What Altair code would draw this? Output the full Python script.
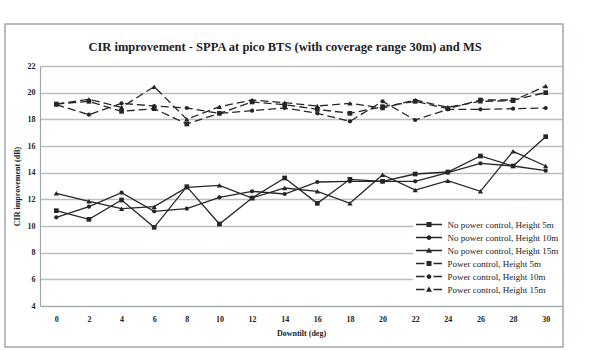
import altair as alt
import pandas as pd

# Downtilt angles (deg) on the x axis
downtilt = [0, 2, 4, 6, 8, 10, 12, 14, 16, 18, 20, 22, 24, 26, 28, 30]

# CIR improvement (dB) per configuration
no_pc_5m = [11.15, 10.5, 11.95, 9.9, 12.95, 10.15, 12.1, 13.6, 11.7, 13.5, 13.35, 13.9, 14.05, 15.25, 14.5, 16.7]
no_pc_10m = [10.65, 11.45, 12.5, 11.1, 11.3, 12.15, 12.6, 12.4, 13.3, 13.35, 13.35, 13.35, 14.0, 14.7, 14.5, 14.15]
no_pc_15m = [12.45, 11.85, 11.3, 11.45, 12.9, 13.05, 12.1, 12.85, 12.6, 11.7, 13.85, 12.7, 13.4, 12.6, 15.6, 14.5]
pc_5m = [19.15, 19.35, 18.6, 18.8, 17.65, 18.45, 19.3, 19.1, 18.75, 18.45, 18.95, 19.35, 18.8, 19.45, 19.45, 20.0]
pc_10m = [19.1, 18.35, 19.2, 19.0, 18.85, 18.45, 18.65, 18.85, 18.45, 17.85, 19.35, 17.95, 18.75, 18.75, 18.8, 18.85]
pc_15m = [19.15, 19.5, 18.9, 20.45, 18.0, 18.95, 19.45, 19.25, 19.0, 19.2, 18.85, 19.45, 18.9, 19.35, 19.4, 20.5]

series_names = [
    "No power control, Height 5m",
    "No power control, Height 10m",
    "No power control, Height 15m",
    "Power control, Height 5m",
    "Power control, Height 10m",
    "Power control, Height 15m",
]
series_values = [no_pc_5m, no_pc_10m, no_pc_15m, pc_5m, pc_10m, pc_15m]
controls = ["none", "none", "none", "pc", "pc", "pc"]
heights = [5, 10, 15, 5, 10, 15]

y_ticks = [4, 6, 8, 10, 12, 14, 16, 18, 20, 22]

rows = []
for name, vals, ctrl, h in zip(series_names, series_values, controls, heights):
    for d, v in zip(downtilt, vals):
        rows.append({"downtilt": d, "cir": v, "series": name, "control": ctrl, "height": h})
df = pd.DataFrame(rows)

INK = "#262626"
GRID = "#b9c0c0"
FRAME = "#9ea8a8"
SERIF = "Liberation Serif"

# Legend symbols (filled paths, 1 unit = 2.5 px): a short line with the
# series marker in the middle; dashed for the power-control series
SOLID = "M-5.2,-0.26H5.2V0.26H-5.2Z"
DASHED = "M-5.2,-0.26H-1.8V0.26H-5.2ZM1.8,-0.26H5.2V0.26H1.8Z"
SQUARE = "M-1,-1H1V1H-1Z"
CIRCLE = "M-0.95,0A0.95,0.95 0 1,1 0.95,0A0.95,0.95 0 1,1 -0.95,0Z"
TRIANGLE = "M0,-1.2L1.2,0.85H-1.2Z"
legend_paths = [
    SOLID + SQUARE, SOLID + CIRCLE, SOLID + TRIANGLE,
    DASHED + SQUARE, DASHED + CIRCLE, DASHED + TRIANGLE,
]

x_enc = alt.X(
    "downtilt:Q",
    scale=alt.Scale(domain=[-1, 31], nice=False, zero=False),
    axis=alt.Axis(
        values=downtilt, title="Downtilt (deg)", grid=False, ticks=False,
        labelPadding=9, titlePadding=6,
    ),
)
y_enc = alt.Y(
    "cir:Q",
    scale=alt.Scale(domain=[4, 22], nice=False, zero=False),
    axis=alt.Axis(
        values=y_ticks, title="CIR improvement (dB)", grid=True, ticks=False,
        labelPadding=5, titlePadding=6,
    ),
)

base = alt.Chart(df)

solid_lines = base.transform_filter(alt.datum.control == "none").mark_line(
    color=INK, strokeWidth=1.3
).encode(x=x_enc, y=y_enc, detail="series:N")

dashed_lines = base.transform_filter(alt.datum.control == "pc").mark_line(
    color=INK, strokeWidth=1.3, strokeDash=[8, 4]
).encode(x=x_enc, y=y_enc, detail="series:N")

marker_layers = []
for h, shape, size in [(5, "square", 22), (10, "circle", 18), (15, "triangle-up", 28)]:
    marker_layers.append(
        base.transform_filter(alt.datum.height == h).mark_point(
            filled=True, shape=shape, size=size, color=INK, opacity=1
        ).encode(x=x_enc, y=y_enc)
    )

# Empty layer that only carries the legend scale
legend_layer = base.transform_filter("false").mark_point(
    filled=True, color=INK, opacity=1
).encode(
    x=x_enc,
    y=y_enc,
    shape=alt.Shape(
        "series:N",
        scale=alt.Scale(domain=series_names, range=legend_paths),
        legend=alt.Legend(title=None),
    ),
)

# Outer chart frame
frame = alt.Chart(alt.Data(values=[{}])).mark_rect(
    fill=None, stroke=FRAME, strokeWidth=1.5
).encode(
    x=alt.value(-35), x2=alt.value(523), y=alt.value(-42), y2=alt.value(281)
)

chart = alt.layer(
    frame, solid_lines, dashed_lines, *marker_layers, legend_layer
).properties(
    width=522,
    height=240,
    title=alt.Title(
        "CIR improvement - SPPA at pico BTS (with coverage range 30m) and MS",
        font=SERIF, fontSize=12.5, fontWeight="bold", color="#222222",
        anchor="middle", offset=16, dx=-16, dy=46,
    ),
    autosize=alt.AutoSizeParams(type="none"),
    padding={"left": 40, "top": 66, "right": 30, "bottom": 44},
).configure_view(
    stroke=None
).configure_axis(
    labelFont=SERIF, labelFontSize=8, labelFontWeight="bold", labelColor="#222222",
    titleFont=SERIF, titleFontSize=8, titleFontWeight="bold", titleColor="#222222",
    domainColor=FRAME, domainWidth=1.2, gridColor=GRID, gridWidth=1.3,
).configure_legend(
    orient="none", legendX=373, legendY=151,
    fillColor="white", padding=3, strokeColor=None,
    symbolSize=25, symbolStrokeWidth=0, symbolFillColor=INK,
    symbolOpacity=1, symbolOffset=8.5, labelOffset=14, rowPadding=3,
    labelFont=SERIF, labelFontSize=9, labelColor="#222222", labelLimit=300,
)

chart.save("out.html", embed_options={"renderer": "svg", "actions": False})
